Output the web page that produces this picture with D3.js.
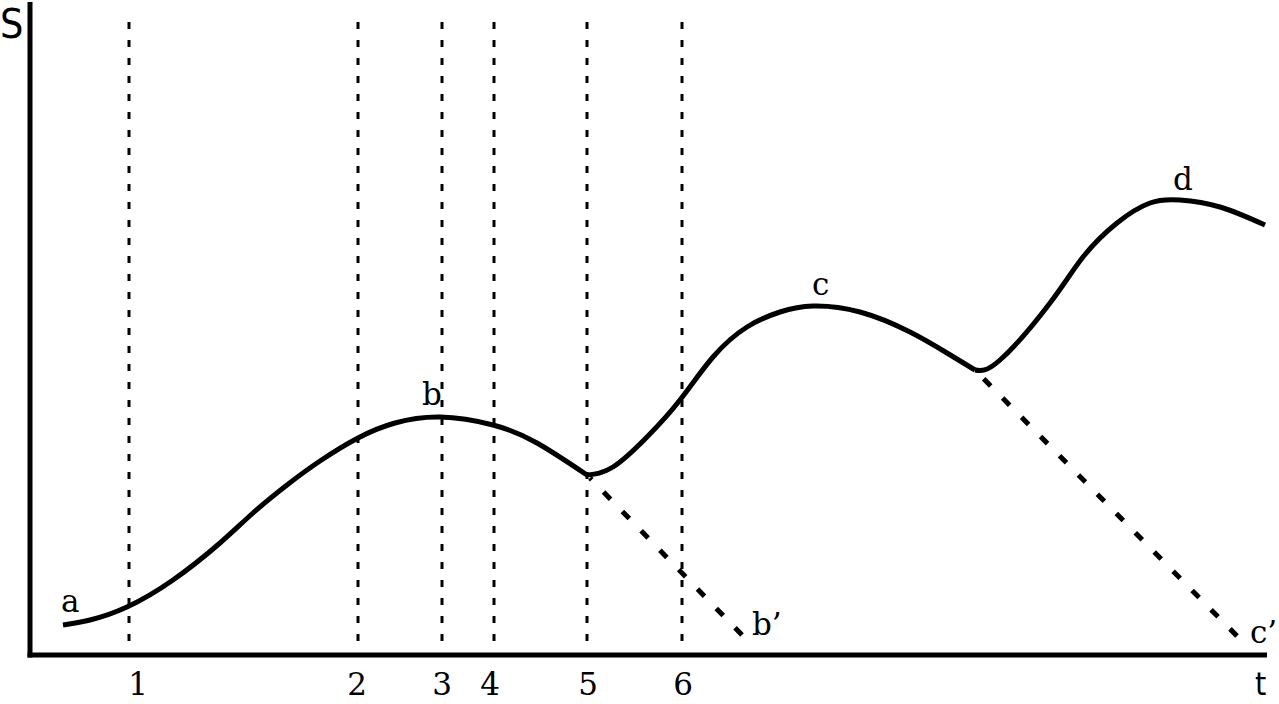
<!DOCTYPE html>
<html><head><meta charset="utf-8">
<script src="https://cdn.jsdelivr.net/npm/d3@7"></script>
<style>html,body{margin:0;padding:0;background:#fff;}svg{display:block;}</style>
</head><body>
<svg id="chart" width="1279" height="704"></svg>
<script>
// Data (t, S) in arbitrary units
const curveAB = [[33,30],[60,35],[97,48],[143,75],[190,112],[223,142],[257,170],[290,194],[328,217],[365,232],[410,238],[463,230],[507,212],[557,180]];
const curveBC = [[557,180],[583,188],[617,218],[650,255],[683,298],[717,328],[750,343],[783,349],[830,343],[880,323],[917,302],[945,285]];
const curveCD = [[945,285],[970,295],[1020,352],[1053,398],[1087,432],[1120,452],[1150,455],[1190,448],[1235,430]];
const declineB = [[560,177],[712,20]];
const declineC = [[948,282],[1207,19]];
const markerT = [99,328,412,464,557,652];
const markerLabels = ["1","2","3","4","5","6"];
const markerLabelT = [108,327,412,460,558,653];
const pointLabels = [{text:"a",t:31,s:43},{text:"b",t:392,s:250},{text:"c",t:782,s:360},{text:"d",t:1143,s:465},{text:"b\u2019",t:722,s:20},{text:"c\u2019",t:1220,s:12}];

const svg = d3.select("#chart");
const x = d3.scaleLinear().domain([0,1235]).range([30,1265]);
const y = d3.scaleLinear().domain([0,650]).range([655,5]);
const serif = "'DejaVu Serif', serif";

// vertical dashed markers
svg.selectAll("line.marker").data(markerT).enter().append("line")
  .attr("x1", d=>x(d)).attr("x2", d=>x(d))
  .attr("y1", y(633)).attr("y2", y(5))
  .attr("stroke","#000").attr("stroke-width",3).attr("stroke-dasharray","7,11");

const line = d3.line().x(d=>x(d[0])).y(d=>y(d[1])).curve(d3.curveNatural);
[curveAB, curveBC, curveCD].forEach(seg=>{
  svg.append("path").attr("d", line(seg)).attr("fill","none")
    .attr("stroke","#000").attr("stroke-width",5).attr("stroke-linejoin","round");
});
const straight = d3.line().x(d=>x(d[0])).y(d=>y(d[1]));
[declineB, declineC].forEach(seg=>{
  const p = svg.append("path").attr("d", straight(seg)).attr("fill","none")
    .attr("stroke","#000").attr("stroke-width",5).attr("stroke-dasharray","10,17");
  const L = p.node().getTotalLength();
  const off = (((10 - L) % 27) + 27) % 27;
  p.attr("stroke-dashoffset", off);
});

// axes
svg.append("line").attr("x1",x(0)).attr("x2",x(0)).attr("y1",2).attr("y2",y(0)+2.5)
  .attr("stroke","#000").attr("stroke-width",5);
svg.append("line").attr("x1",x(0)-2.5).attr("x2",x(1237)).attr("y1",y(0)).attr("y2",y(0))
  .attr("stroke","#000").attr("stroke-width",5);

// marker labels
svg.selectAll("text.mk").data(markerLabels).enter().append("text")
  .attr("x",(d,i)=>x(markerLabelT[i])).attr("y",695)
  .attr("text-anchor","middle").attr("font-family",serif).attr("font-size",31)
  .text(d=>d);

// point labels
svg.selectAll("text.pl").data(pointLabels).enter().append("text")
  .attr("x",d=>x(d.t)).attr("y",d=>y(d.s))
  .attr("font-family",serif).attr("font-size",31).text(d=>d.text);

// axis titles
svg.append("text").attr("x",0).attr("y",38).attr("font-family","'Liberation Sans Narrow','DejaVu Sans Condensed',sans-serif")
  .attr("font-size",41).text("S");
svg.append("text").attr("x",1255).attr("y",695).attr("font-family","'Liberation Sans Narrow','DejaVu Sans Condensed',sans-serif")
  .attr("font-size",32).text("t");
</script>
</body></html>
